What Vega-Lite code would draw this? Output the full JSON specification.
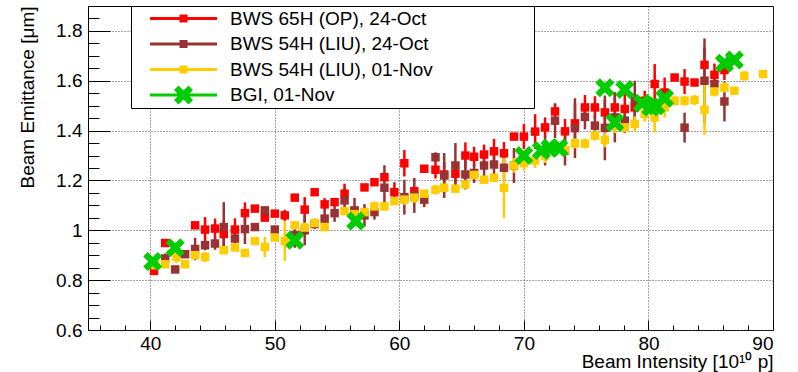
{
 "$schema": "https://vega.github.io/schema/vega-lite/v6.json",
 "width": 685, "height": 324,
 "autosize": {"type": "none"},
 "padding": {"left": 88, "top": 6, "right": 25, "bottom": 42},
 "background": "white",
 "config": {
  "view": {"stroke": "black", "strokeWidth": 1},
  "font": "Liberation Sans",
  "axis": {"labelFont": "Liberation Sans", "titleFont": "Liberation Sans", "labelColor": "black", "titleColor": "black", "titleFontWeight": "normal", "domain": false}
 },
 "datasets": {
  "pts": [
   {"s":"BWS 65H (OP), 24-Oct","x":40.3,"y":0.837,"e":0},
   {"s":"BWS 65H (OP), 24-Oct","x":41.2,"y":0.949,"e":0},
   {"s":"BWS 65H (OP), 24-Oct","x":43.6,"y":1.02,"e":0.013},
   {"s":"BWS 65H (OP), 24-Oct","x":44.4,"y":1.003,"e":0.05},
   {"s":"BWS 65H (OP), 24-Oct","x":45.2,"y":1.007,"e":0.04},
   {"s":"BWS 65H (OP), 24-Oct","x":45.9,"y":0.985,"e":0.055},
   {"s":"BWS 65H (OP), 24-Oct","x":46.8,"y":1.003,"e":0.045},
   {"s":"BWS 65H (OP), 24-Oct","x":47.6,"y":1.069,"e":0.043},
   {"s":"BWS 65H (OP), 24-Oct","x":48.4,"y":1.087,"e":0.01},
   {"s":"BWS 65H (OP), 24-Oct","x":49.2,"y":1.051,"e":0.015},
   {"s":"BWS 65H (OP), 24-Oct","x":50.0,"y":1.067,"e":0.01},
   {"s":"BWS 65H (OP), 24-Oct","x":50.8,"y":1.06,"e":0.022},
   {"s":"BWS 65H (OP), 24-Oct","x":51.6,"y":1.131,"e":0.012},
   {"s":"BWS 65H (OP), 24-Oct","x":52.4,"y":1.083,"e":0.05},
   {"s":"BWS 65H (OP), 24-Oct","x":53.2,"y":1.153,"e":0.012},
   {"s":"BWS 65H (OP), 24-Oct","x":54.0,"y":1.104,"e":0.025},
   {"s":"BWS 65H (OP), 24-Oct","x":54.8,"y":1.113,"e":0.01},
   {"s":"BWS 65H (OP), 24-Oct","x":55.6,"y":1.147,"e":0.04},
   {"s":"BWS 65H (OP), 24-Oct","x":56.4,"y":1.076,"e":0.01},
   {"s":"BWS 65H (OP), 24-Oct","x":57.2,"y":1.172,"e":0.01},
   {"s":"BWS 65H (OP), 24-Oct","x":58.0,"y":1.193,"e":0.015},
   {"s":"BWS 65H (OP), 24-Oct","x":58.8,"y":1.213,"e":0.02},
   {"s":"BWS 65H (OP), 24-Oct","x":59.6,"y":1.153,"e":0.04},
   {"s":"BWS 65H (OP), 24-Oct","x":60.4,"y":1.269,"e":0.053},
   {"s":"BWS 65H (OP), 24-Oct","x":61.2,"y":1.157,"e":0.015},
   {"s":"BWS 65H (OP), 24-Oct","x":62.0,"y":1.247,"e":0.01},
   {"s":"BWS 65H (OP), 24-Oct","x":62.9,"y":1.243,"e":0.035},
   {"s":"BWS 65H (OP), 24-Oct","x":63.6,"y":1.224,"e":0.05},
   {"s":"BWS 65H (OP), 24-Oct","x":64.5,"y":1.227,"e":0.04},
   {"s":"BWS 65H (OP), 24-Oct","x":65.3,"y":1.3,"e":0.053},
   {"s":"BWS 65H (OP), 24-Oct","x":66.0,"y":1.295,"e":0.04},
   {"s":"BWS 65H (OP), 24-Oct","x":66.8,"y":1.304,"e":0.04},
   {"s":"BWS 65H (OP), 24-Oct","x":67.6,"y":1.317,"e":0.05},
   {"s":"BWS 65H (OP), 24-Oct","x":68.4,"y":1.309,"e":0.045},
   {"s":"BWS 65H (OP), 24-Oct","x":69.2,"y":1.376,"e":0.01},
   {"s":"BWS 65H (OP), 24-Oct","x":70.0,"y":1.376,"e":0.05},
   {"s":"BWS 65H (OP), 24-Oct","x":70.9,"y":1.396,"e":0.07},
   {"s":"BWS 65H (OP), 24-Oct","x":71.7,"y":1.413,"e":0.04},
   {"s":"BWS 65H (OP), 24-Oct","x":72.5,"y":1.477,"e":0.03},
   {"s":"BWS 65H (OP), 24-Oct","x":73.3,"y":1.397,"e":0.05},
   {"s":"BWS 65H (OP), 24-Oct","x":74.1,"y":1.429,"e":0.08},
   {"s":"BWS 65H (OP), 24-Oct","x":74.9,"y":1.493,"e":0.05},
   {"s":"BWS 65H (OP), 24-Oct","x":75.7,"y":1.493,"e":0.045},
   {"s":"BWS 65H (OP), 24-Oct","x":76.5,"y":1.473,"e":0.05},
   {"s":"BWS 65H (OP), 24-Oct","x":77.3,"y":1.493,"e":0.06},
   {"s":"BWS 65H (OP), 24-Oct","x":78.1,"y":1.487,"e":0.06},
   {"s":"BWS 65H (OP), 24-Oct","x":78.9,"y":1.493,"e":0.055},
   {"s":"BWS 65H (OP), 24-Oct","x":79.7,"y":1.52,"e":0.04},
   {"s":"BWS 65H (OP), 24-Oct","x":80.5,"y":1.587,"e":0.08},
   {"s":"BWS 65H (OP), 24-Oct","x":81.3,"y":1.553,"e":0.06},
   {"s":"BWS 65H (OP), 24-Oct","x":82.1,"y":1.613,"e":0.01},
   {"s":"BWS 65H (OP), 24-Oct","x":82.9,"y":1.597,"e":0.05},
   {"s":"BWS 65H (OP), 24-Oct","x":83.7,"y":1.593,"e":0.01},
   {"s":"BWS 65H (OP), 24-Oct","x":84.5,"y":1.664,"e":0.07},
   {"s":"BWS 65H (OP), 24-Oct","x":85.3,"y":1.624,"e":0.045},
   {"s":"BWS 65H (OP), 24-Oct","x":86.1,"y":1.643,"e":0.04},

   {"s":"BWS 54H (LIU), 24-Oct","x":41.2,"y":0.887,"e":0.02},
   {"s":"BWS 54H (LIU), 24-Oct","x":42.0,"y":0.843,"e":0},
   {"s":"BWS 54H (LIU), 24-Oct","x":42.8,"y":0.904,"e":0},
   {"s":"BWS 54H (LIU), 24-Oct","x":43.6,"y":0.925,"e":0.045},
   {"s":"BWS 54H (LIU), 24-Oct","x":44.4,"y":0.94,"e":0.02},
   {"s":"BWS 54H (LIU), 24-Oct","x":45.2,"y":0.947,"e":0.025},
   {"s":"BWS 54H (LIU), 24-Oct","x":45.9,"y":1.013,"e":0.1},
   {"s":"BWS 54H (LIU), 24-Oct","x":46.8,"y":0.967,"e":0.02},
   {"s":"BWS 54H (LIU), 24-Oct","x":47.6,"y":1.005,"e":0.06},
   {"s":"BWS 54H (LIU), 24-Oct","x":48.4,"y":1.013,"e":0.01},
   {"s":"BWS 54H (LIU), 24-Oct","x":49.2,"y":1.08,"e":0.01},
   {"s":"BWS 54H (LIU), 24-Oct","x":50.0,"y":1.003,"e":0.015},
   {"s":"BWS 54H (LIU), 24-Oct","x":51.6,"y":0.98,"e":0.05},
   {"s":"BWS 54H (LIU), 24-Oct","x":52.4,"y":1.0,"e":0.06},
   {"s":"BWS 54H (LIU), 24-Oct","x":53.2,"y":1.025,"e":0.02},
   {"s":"BWS 54H (LIU), 24-Oct","x":54.0,"y":1.047,"e":0.035},
   {"s":"BWS 54H (LIU), 24-Oct","x":54.8,"y":1.069,"e":0.035},
   {"s":"BWS 54H (LIU), 24-Oct","x":55.6,"y":1.12,"e":0.05},
   {"s":"BWS 54H (LIU), 24-Oct","x":56.4,"y":1.08,"e":0.05},
   {"s":"BWS 54H (LIU), 24-Oct","x":57.2,"y":1.06,"e":0.045},
   {"s":"BWS 54H (LIU), 24-Oct","x":58.0,"y":1.073,"e":0.03},
   {"s":"BWS 54H (LIU), 24-Oct","x":58.8,"y":1.171,"e":0.09},
   {"s":"BWS 54H (LIU), 24-Oct","x":60.4,"y":1.133,"e":0.07},
   {"s":"BWS 54H (LIU), 24-Oct","x":61.2,"y":1.14,"e":0.07},
   {"s":"BWS 54H (LIU), 24-Oct","x":62.0,"y":1.123,"e":0.03},
   {"s":"BWS 54H (LIU), 24-Oct","x":62.9,"y":1.293,"e":0.02},
   {"s":"BWS 54H (LIU), 24-Oct","x":63.6,"y":1.22,"e":0.09},
   {"s":"BWS 54H (LIU), 24-Oct","x":64.5,"y":1.26,"e":0.09},
   {"s":"BWS 54H (LIU), 24-Oct","x":65.3,"y":1.224,"e":0.06},
   {"s":"BWS 54H (LIU), 24-Oct","x":66.0,"y":1.23,"e":0.04},
   {"s":"BWS 54H (LIU), 24-Oct","x":66.8,"y":1.26,"e":0.045},
   {"s":"BWS 54H (LIU), 24-Oct","x":67.6,"y":1.264,"e":0.05},
   {"s":"BWS 54H (LIU), 24-Oct","x":68.4,"y":1.251,"e":0.05},
   {"s":"BWS 54H (LIU), 24-Oct","x":69.2,"y":1.26,"e":0.07},
   {"s":"BWS 54H (LIU), 24-Oct","x":71.7,"y":1.32,"e":0.06},
   {"s":"BWS 54H (LIU), 24-Oct","x":72.5,"y":1.44,"e":0.07},
   {"s":"BWS 54H (LIU), 24-Oct","x":73.3,"y":1.32,"e":0.06},
   {"s":"BWS 54H (LIU), 24-Oct","x":74.1,"y":1.41,"e":0.12},
   {"s":"BWS 54H (LIU), 24-Oct","x":74.9,"y":1.455,"e":0.05},
   {"s":"BWS 54H (LIU), 24-Oct","x":75.7,"y":1.42,"e":0.045},
   {"s":"BWS 54H (LIU), 24-Oct","x":76.5,"y":1.411,"e":0.13},
   {"s":"BWS 54H (LIU), 24-Oct","x":77.3,"y":1.453,"e":0.1},
   {"s":"BWS 54H (LIU), 24-Oct","x":78.1,"y":1.44,"e":0.05},
   {"s":"BWS 54H (LIU), 24-Oct","x":78.9,"y":1.52,"e":0.08},
   {"s":"BWS 54H (LIU), 24-Oct","x":82.9,"y":1.412,"e":0.06},
   {"s":"BWS 54H (LIU), 24-Oct","x":84.5,"y":1.6,"e":0.17},
   {"s":"BWS 54H (LIU), 24-Oct","x":85.3,"y":1.587,"e":0.03},
   {"s":"BWS 54H (LIU), 24-Oct","x":86.1,"y":1.517,"e":0.08},

   {"s":"BWS 54H (LIU), 01-Nov","x":40.4,"y":0.86,"e":0},
   {"s":"BWS 54H (LIU), 01-Nov","x":41.2,"y":0.864,"e":0},
   {"s":"BWS 54H (LIU), 01-Nov","x":42.1,"y":0.893,"e":0.025},
   {"s":"BWS 54H (LIU), 01-Nov","x":42.8,"y":0.864,"e":0},
   {"s":"BWS 54H (LIU), 01-Nov","x":43.6,"y":0.9,"e":0},
   {"s":"BWS 54H (LIU), 01-Nov","x":44.4,"y":0.893,"e":0.02},
   {"s":"BWS 54H (LIU), 01-Nov","x":45.9,"y":0.92,"e":0},
   {"s":"BWS 54H (LIU), 01-Nov","x":46.8,"y":0.931,"e":0},
   {"s":"BWS 54H (LIU), 01-Nov","x":47.6,"y":0.909,"e":0},
   {"s":"BWS 54H (LIU), 01-Nov","x":48.4,"y":0.957,"e":0},
   {"s":"BWS 54H (LIU), 01-Nov","x":49.2,"y":0.933,"e":0.04},
   {"s":"BWS 54H (LIU), 01-Nov","x":50.0,"y":0.971,"e":0},
   {"s":"BWS 54H (LIU), 01-Nov","x":50.8,"y":0.957,"e":0.08},
   {"s":"BWS 54H (LIU), 01-Nov","x":51.6,"y":1.02,"e":0},
   {"s":"BWS 54H (LIU), 01-Nov","x":52.4,"y":1.011,"e":0.02},
   {"s":"BWS 54H (LIU), 01-Nov","x":53.2,"y":1.029,"e":0.02},
   {"s":"BWS 54H (LIU), 01-Nov","x":54.0,"y":1.013,"e":0},
   {"s":"BWS 54H (LIU), 01-Nov","x":55.6,"y":1.077,"e":0},
   {"s":"BWS 54H (LIU), 01-Nov","x":56.4,"y":1.065,"e":0},
   {"s":"BWS 54H (LIU), 01-Nov","x":57.2,"y":1.073,"e":0.015},
   {"s":"BWS 54H (LIU), 01-Nov","x":58.0,"y":1.096,"e":0.02},
   {"s":"BWS 54H (LIU), 01-Nov","x":58.8,"y":1.096,"e":0.015},
   {"s":"BWS 54H (LIU), 01-Nov","x":59.6,"y":1.117,"e":0.01},
   {"s":"BWS 54H (LIU), 01-Nov","x":60.4,"y":1.123,"e":0.02},
   {"s":"BWS 54H (LIU), 01-Nov","x":61.2,"y":1.131,"e":0.02},
   {"s":"BWS 54H (LIU), 01-Nov","x":62.0,"y":1.147,"e":0.015},
   {"s":"BWS 54H (LIU), 01-Nov","x":62.9,"y":1.163,"e":0.02},
   {"s":"BWS 54H (LIU), 01-Nov","x":63.6,"y":1.171,"e":0.015},
   {"s":"BWS 54H (LIU), 01-Nov","x":64.5,"y":1.167,"e":0.01},
   {"s":"BWS 54H (LIU), 01-Nov","x":65.3,"y":1.184,"e":0.015},
   {"s":"BWS 54H (LIU), 01-Nov","x":66.0,"y":1.222,"e":0.01},
   {"s":"BWS 54H (LIU), 01-Nov","x":66.8,"y":1.203,"e":0.01},
   {"s":"BWS 54H (LIU), 01-Nov","x":67.6,"y":1.211,"e":0.01},
   {"s":"BWS 54H (LIU), 01-Nov","x":68.4,"y":1.17,"e":0.12},
   {"s":"BWS 54H (LIU), 01-Nov","x":69.2,"y":1.26,"e":0.03},
   {"s":"BWS 54H (LIU), 01-Nov","x":70.0,"y":1.27,"e":0.03},
   {"s":"BWS 54H (LIU), 01-Nov","x":70.9,"y":1.28,"e":0.03},
   {"s":"BWS 54H (LIU), 01-Nov","x":71.7,"y":1.3,"e":0.03},
   {"s":"BWS 54H (LIU), 01-Nov","x":73.3,"y":1.323,"e":0.02},
   {"s":"BWS 54H (LIU), 01-Nov","x":74.1,"y":1.349,"e":0.02},
   {"s":"BWS 54H (LIU), 01-Nov","x":74.9,"y":1.348,"e":0.02},
   {"s":"BWS 54H (LIU), 01-Nov","x":75.7,"y":1.38,"e":0.02},
   {"s":"BWS 54H (LIU), 01-Nov","x":76.5,"y":1.363,"e":0.03},
   {"s":"BWS 54H (LIU), 01-Nov","x":77.3,"y":1.42,"e":0.03},
   {"s":"BWS 54H (LIU), 01-Nov","x":78.1,"y":1.413,"e":0.02},
   {"s":"BWS 54H (LIU), 01-Nov","x":78.9,"y":1.427,"e":0.03},
   {"s":"BWS 54H (LIU), 01-Nov","x":79.7,"y":1.467,"e":0.03},
   {"s":"BWS 54H (LIU), 01-Nov","x":80.5,"y":1.453,"e":0.06},
   {"s":"BWS 54H (LIU), 01-Nov","x":81.3,"y":1.493,"e":0.04},
   {"s":"BWS 54H (LIU), 01-Nov","x":82.1,"y":1.52,"e":0.02},
   {"s":"BWS 54H (LIU), 01-Nov","x":82.9,"y":1.52,"e":0.02},
   {"s":"BWS 54H (LIU), 01-Nov","x":83.7,"y":1.523,"e":0.02},
   {"s":"BWS 54H (LIU), 01-Nov","x":84.5,"y":1.484,"e":0.1},
   {"s":"BWS 54H (LIU), 01-Nov","x":85.3,"y":1.557,"e":0.02},
   {"s":"BWS 54H (LIU), 01-Nov","x":86.1,"y":1.573,"e":0.02},
   {"s":"BWS 54H (LIU), 01-Nov","x":86.9,"y":1.56,"e":0.01},
   {"s":"BWS 54H (LIU), 01-Nov","x":87.7,"y":1.62,"e":0.02},
   {"s":"BWS 54H (LIU), 01-Nov","x":89.2,"y":1.627,"e":0},

   {"s":"BGI, 01-Nov","x":40.2,"y":0.875,"e":0},
   {"s":"BGI, 01-Nov","x":42.0,"y":0.93,"e":0},
   {"s":"BGI, 01-Nov","x":51.6,"y":0.96,"e":0},
   {"s":"BGI, 01-Nov","x":56.5,"y":1.037,"e":0},
   {"s":"BGI, 01-Nov","x":70.0,"y":1.3,"e":0},
   {"s":"BGI, 01-Nov","x":71.4,"y":1.32,"e":0},
   {"s":"BGI, 01-Nov","x":72.1,"y":1.33,"e":0},
   {"s":"BGI, 01-Nov","x":72.8,"y":1.33,"e":0},
   {"s":"BGI, 01-Nov","x":76.5,"y":1.572,"e":0},
   {"s":"BGI, 01-Nov","x":77.3,"y":1.433,"e":0},
   {"s":"BGI, 01-Nov","x":78.1,"y":1.565,"e":0},
   {"s":"BGI, 01-Nov","x":79.5,"y":1.51,"e":0},
   {"s":"BGI, 01-Nov","x":80.2,"y":1.495,"e":0},
   {"s":"BGI, 01-Nov","x":80.6,"y":1.5,"e":0},
   {"s":"BGI, 01-Nov","x":81.3,"y":1.53,"e":0},
   {"s":"BGI, 01-Nov","x":86.1,"y":1.67,"e":0},
   {"s":"BGI, 01-Nov","x":86.9,"y":1.683,"e":0}
  ]
 },
 "data": {"name": "pts"},
 "layer": [
  {
   "transform": [{"filter": "datum.s !== 'BGI, 01-Nov'"}],
   "mark": {"type": "errorbar", "ticks": false, "thickness": 2.5},
   "encoding": {
    "x": {"field": "x", "type": "quantitative", "scale": {"domain": [35, 90], "nice": false, "zero": false},
          "axis": {"orient": "bottom", "values": [36,38,42,44,46,48,52,54,56,58,62,64,66,68,72,74,76,78,82,84,86,88], "labels": false, "grid": false, "ticks": true, "tickSize": -5, "tickColor": "black", "tickWidth": 1, "title": null}},
    "y": {"field": "y", "type": "quantitative", "scale": {"domain": [0.6, 1.9], "nice": false, "zero": false},
          "axis": {"orient": "left", "values": [0.65,0.7,0.75,0.85,0.9,0.95,1.05,1.1,1.15,1.25,1.3,1.35,1.45,1.5,1.55,1.65,1.7,1.75,1.85], "labels": false, "grid": false, "ticks": true, "tickSize": -11, "tickColor": "black", "tickWidth": 1, "title": null}},
    "yError": {"field": "e"},
    "color": {"field": "s", "type": "nominal",
              "scale": {"domain": ["BWS 65H (OP), 24-Oct", "BWS 54H (LIU), 24-Oct", "BWS 54H (LIU), 01-Nov", "BGI, 01-Nov"], "range": ["#ff0000", "#993333", "#ffcc00", "#00cc00"]}}
   }
  },
  {
   "transform": [{"filter": "datum.s !== 'BGI, 01-Nov'"}],
   "mark": {"type": "point", "shape": "square", "filled": true, "size": 72, "opacity": 1},
   "encoding": {
    "x": {"field": "x", "type": "quantitative",
          "axis": {"orient": "bottom", "values": [40,50,60,70,80,90], "ticks": false, "tickSize": 0, "labels": true, "labelFontSize": 19, "labelPadding": 4, "grid": true, "gridColor": "#444", "gridDash": [1,2], "gridWidth": 1,
                   "title": "Beam Intensity [10¹⁰ p]", "titleFontSize": 19, "titleAnchor": "end", "titleAlign": "right", "titleX": 685, "titleY": 37, "titleBaseline": "alphabetic"}},
    "y": {"field": "y", "type": "quantitative",
          "axis": {"orient": "left", "values": [0.6,0.8,1,1.2,1.4,1.6,1.8], "format": "~g", "ticks": false, "tickSize": 0, "labels": true, "labelFontSize": 19, "labelPadding": 6, "grid": true, "gridColor": "#444", "gridDash": [1,2], "gridWidth": 1,
                   "title": "Beam Emittance [μm]", "titleFontSize": 19, "titleAngle": -90, "titleAnchor": "end", "titleAlign": "right", "titleX": -55, "titleY": 0, "titleBaseline": "alphabetic"}},
    "color": {"field": "s", "type": "nominal",
              "legend": {
               "orient": "none", "legendX": 43, "legendY": 0, "title": null,
               "padding": 3, "fillColor": "white", "strokeColor": "black",
               "labelFont": "Liberation Sans", "labelFontSize": 19, "labelColor": "black", "labelLimit": 0,
               "rowPadding": 5.5, "symbolSize": 100, "symbolOffset": 40, "labelOffset": 37,
               "symbolStrokeWidth": 0, "symbolOpacity": 1, "symbolType": "square",
               "labelExpr": "datum.label + '\u2800\u2800\u2800\u2800\u2800\u2800\u2800'",
               "encode": {
                "symbols": {"update": {
                 "shape": {"signal": "datum.value === 'BGI, 01-Nov' ? 'M-6.7,-0.3H6.7V0.3H-6.7Z M-1.9,-1L-1,-1.9L0,-0.9L1,-1.9L1.9,-1L0.9,0L1.9,1L1,1.9L0,0.9L-1,1.9L-1.9,1L-0.9,0Z' : 'M-6.7,-0.3H6.7V0.3H-6.7Z M-0.8,-0.8H0.8V0.8H-0.8Z'"},
                 "fill": {"scale": "color", "field": "value"},
                 "strokeWidth": {"value": 0}}}}
              }}
   }
  },
  {
   "transform": [{"filter": "datum.s === 'BGI, 01-Nov'"}],
   "mark": {"type": "point", "shape": "M-1,-0.53L-0.53,-1L0,-0.47L0.53,-1L1,-0.53L0.47,0L1,0.53L0.53,1L0,0.47L-0.53,1L-1,0.53L-0.47,0Z", "filled": true, "size": 361, "opacity": 1},
   "encoding": {
    "x": {"field": "x", "type": "quantitative",
          "axis": {"orient": "bottom", "values": [40,50,60,70,80,90], "labels": false, "grid": false, "ticks": true, "tickSize": -10, "tickColor": "black", "tickWidth": 1, "title": null}},
    "y": {"field": "y", "type": "quantitative",
          "axis": {"orient": "left", "values": [0.6,0.8,1,1.2,1.4,1.6,1.8], "labels": false, "grid": false, "ticks": true, "tickSize": -22, "tickColor": "black", "tickWidth": 1, "title": null}},
    "color": {"field": "s", "type": "nominal"}
   }
  }
 ],
 "resolve": {"axis": {"x": "independent", "y": "independent"}}
}
